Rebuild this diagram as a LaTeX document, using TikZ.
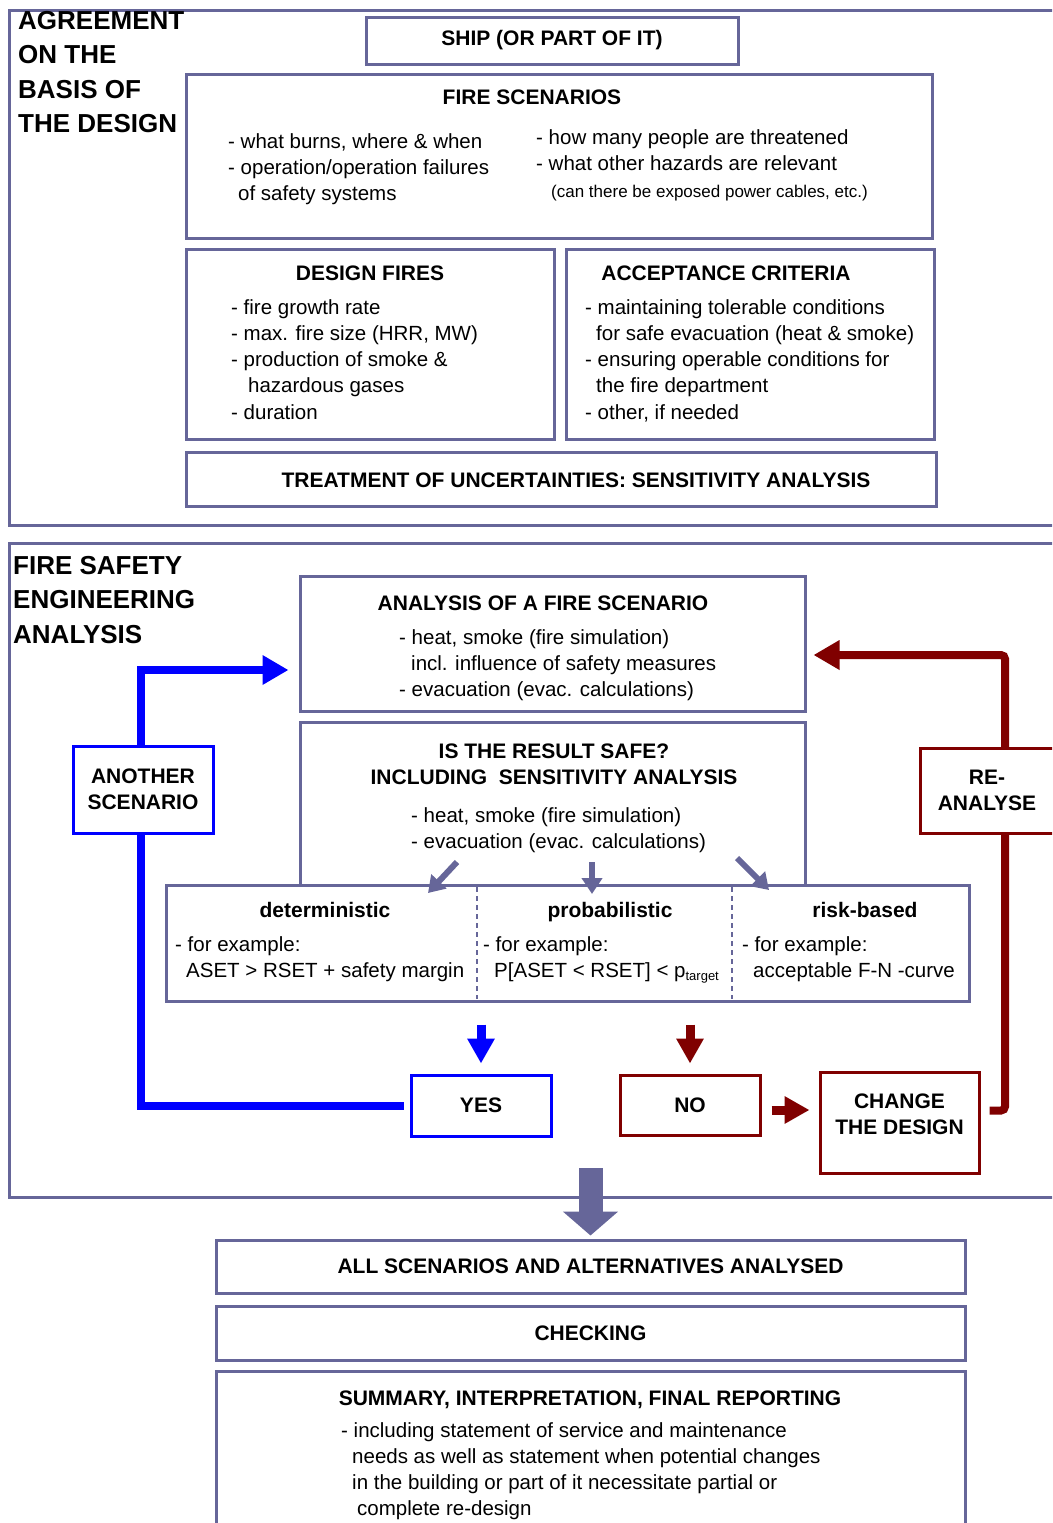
\documentclass[tikz,border=0pt]{standalone}
\usepackage{fontspec}
\setmainfont{Liberation Sans}
\usepackage{tikz}
\usetikzlibrary{arrows.meta}

\definecolor{frame}{RGB}{102,102,153}
\definecolor{darkred}{RGB}{128,0,0}

\newcommand{\txfont}{\fontsize{20.5}{26.3}\selectfont}
\newcommand{\hdfont}{\bfseries\fontsize{21}{26.5}\selectfont}
\newcommand{\bigfont}{\bfseries\fontsize{26}{34.3}\selectfont}
\newcommand{\smfont}{\fontsize{17}{20}\selectfont}

\begin{document}
\begin{tikzpicture}[x=1pt, y=-1pt,
    box/.style={rectangle, draw=frame, line width=3pt, fill=white, inner sep=0pt, align=center, font=\hdfont},
    bluebox/.style={box, draw=blue},
    redbox/.style={box, draw=darkred},
    txt/.style={anchor=base west, inner sep=0pt, align=left, font=\txfont},
    ttl/.style={anchor=base, inner sep=0pt, align=center, font=\hdfont},
    hdl/.style={anchor=base west, inner sep=0pt, align=left, font=\bigfont},
    outline/.style={draw=frame, line width=3pt},
    divider/.style={draw=frame, dashed, dash pattern=on 5pt off 4pt, line width=1.3pt},
    slimarrow/.style={frame, line width=6pt, -{Triangle[length=16pt, width=20pt]}},
    bigarrow/.style={frame, line width=24pt, -{Triangle[length=24pt, width=54pt]}},
    bluearrow/.style={blue, line width=9pt, -{Triangle[length=25pt, width=26pt]}},
    redarrow/.style={darkred, line width=9pt, -{Triangle[length=25pt, width=26pt]}},
    bluepath/.style={blue, line width=8pt, -{Triangle[length=26pt, width=28pt]}},
    redpath/.style={darkred, line width=8pt, rounded corners=4pt, -{Triangle[length=26pt, width=28pt]}}]
    \useasboundingbox (0,0) rectangle (1052,1523);
    \clip (0,0) rectangle (1052,1523);

    % basis of the design (multi-line texts sit on their last baseline)
    \draw[outline] (9,10) rectangle (1070,525);
    \node[hdl] (agree) at (18,132.4) {AGREEMENT\\ON THE\\BASIS OF\\THE DESIGN};
    \node[box, minimum width=372pt, minimum height=47pt] (ship) at (552,40.5) {SHIP (OR PART OF IT)};

    \node[box, minimum width=746pt, minimum height=164pt] (fs) at (559,156) {};
    \node[ttl] (fsT) at (532,104) {FIRE SCENARIOS};
    \node[txt] (fsL) at (228,200.6) {- what burns, where \& when\\- operation/operation failures\\\hspace*{10pt}of safety systems};
    \node[txt] (fsR) at (536,170.3) {- how many people are threatened\\- what other hazards are relevant};
    \node[txt, font=\smfont] (fsS) at (551,197) {(can there be exposed power cables, etc.)};

    \node[box, minimum width=368pt, minimum height=190pt] (df) at (370,344) {};
    \node[ttl] (dfT) at (370,280) {DESIGN FIRES};
    \node[txt] (dfL) at (231,419.2) {- fire growth rate\\- max. fire size (HRR, MW)\\- production of smoke \&\\\hspace*{17pt}hazardous gases\\- duration};

    \node[box, minimum width=368pt, minimum height=190pt] (ac) at (750,344) {};
    \node[ttl] (acT) at (726,280) {ACCEPTANCE CRITERIA};
    \node[txt] (acL) at (585,419.2) {- maintaining tolerable conditions\\\hspace*{11pt}for safe evacuation (heat \& smoke)\\- ensuring operable conditions for\\\hspace*{11pt}the fire department\\- other, if needed};

    \node[box, minimum width=750pt, minimum height=54pt] (unc) at (561,479) {};
    \node[ttl] (uncT) at (576,487) {TREATMENT OF UNCERTAINTIES: SENSITIVITY ANALYSIS};

    % fire safety engineering analysis
    \draw[outline] (9,543) rectangle (1070,1197);
    \node[hdl] (fsea) at (13,643.1) {FIRE SAFETY\\ENGINEERING\\ANALYSIS};

    \node[box, minimum width=505pt, minimum height=135pt] (ana) at (552.5,643.5) {};
    \node[ttl] (anaT) at (543,610) {ANALYSIS OF A FIRE SCENARIO};
    \node[txt] (anaL) at (399,696.6) {- heat, smoke (fire simulation)\\\hspace*{12pt}incl. influence of safety measures\\- evacuation (evac. calculations)};

    \node[box, minimum width=505pt, minimum height=163pt] (safe) at (552.5,803.5) {};
    \node[ttl] (safeT) at (554,784.5) {IS THE RESULT SAFE?\\INCLUDING\ \ SENSITIVITY ANALYSIS};
    \node[txt] (safeL) at (411,848.3) {- heat, smoke (fire simulation)\\- evacuation (evac. calculations)};

    \node[box, minimum width=803pt, minimum height=116pt] (meth) at (567.5,943) {};
    \draw[divider] (477,887) -- (477,999);
    \draw[divider] (732,887) -- (732,999);
    \node[ttl] (detT) at (325,917) {deterministic};
    \node[txt] (detL) at (175,977.3) {- for example:\\\hspace*{11pt}ASET > RSET + safety margin};
    \node[ttl] (proT) at (610,917) {probabilistic};
    \node[txt] (proL) at (483,977.3) {- for example:\\\hspace*{11pt}P[ASET < RSET] < p\raisebox{-3pt}{\fontsize{13}{13}\selectfont target}};
    \node[ttl] (riskT) at (865,917) {risk-based};
    \node[txt] (riskL) at (742,977.3) {- for example:\\\hspace*{11pt}acceptable F-N -curve};

    \draw[slimarrow] (457,862) -- (428,893);
    \draw[slimarrow] (592,862) -- (592,894);
    \draw[slimarrow] (737,858) -- (769,890);

    \node[bluebox, minimum width=140pt, minimum height=61pt] (yes) at (481,1105.5) {YES};
    \node[redbox, minimum width=140pt, minimum height=60pt] (no) at (690,1105) {NO};
    \node[redbox, minimum width=159pt, minimum height=101pt,
        label={[ttl, anchor=center, yshift=8pt]center:CHANGE\\THE DESIGN}] (change) at (899.5,1122.5) {};

    \draw[bluearrow, shorten <=22pt, shorten >=10pt] (yes.north |- meth.south) -- (yes.north);
    \draw[redarrow, shorten <=22pt, shorten >=10pt] (no.north |- meth.south) -- (no.north);
    \draw[redarrow, shorten <=10pt, shorten >=9pt] ([yshift=-5pt]no.east) -- ([yshift=-5pt]change.west |- no.east);

    \coordinate (bturn) at (141,670);
    \coordinate (rturn) at (1005,655);
    \draw[bluepath, shorten <=6pt, shorten >=10pt] (yes.west) -| (bturn) -- ([yshift=-26.5pt]ana.west);
    \draw[redpath, shorten <=9pt, shorten >=7pt] ([yshift=12pt]change.east) -| (rturn) -- ([yshift=-11.5pt]ana.east);

    \node[bluebox, minimum width=140pt, minimum height=87pt] (another) at (143,789.5) {ANOTHER\\SCENARIO};
    \node[redbox, minimum width=140pt, minimum height=85pt] (reana) at (990,790.5) {\hspace*{-6pt}RE-\\\hspace*{-6pt}ANALYSE};

    % after the analysis
    \node[box, minimum width=749pt, minimum height=53pt] (all) at (590.5,1266.5) {ALL SCENARIOS AND ALTERNATIVES ANALYSED};
    \draw[bigarrow, shorten >=3pt] (all.north |- 0,1168) -- (all.north);
    \node[box, minimum width=749pt, minimum height=54pt] (check) at (590.5,1333) {CHECKING};
    \node[box, minimum width=749pt, minimum height=169pt] (sum) at (590.5,1455.5) {};
    \node[ttl] (sumT) at (590,1405) {SUMMARY, INTERPRETATION, FINAL REPORTING};
    \node[txt] (sumL) at (341,1515.9) {- including statement of service and maintenance\\\hspace*{11pt}needs as well as statement when potential changes\\\hspace*{11pt}in the building or part of it necessitate partial or\\\hspace*{16pt}complete re-design};
\end{tikzpicture}
\end{document}
